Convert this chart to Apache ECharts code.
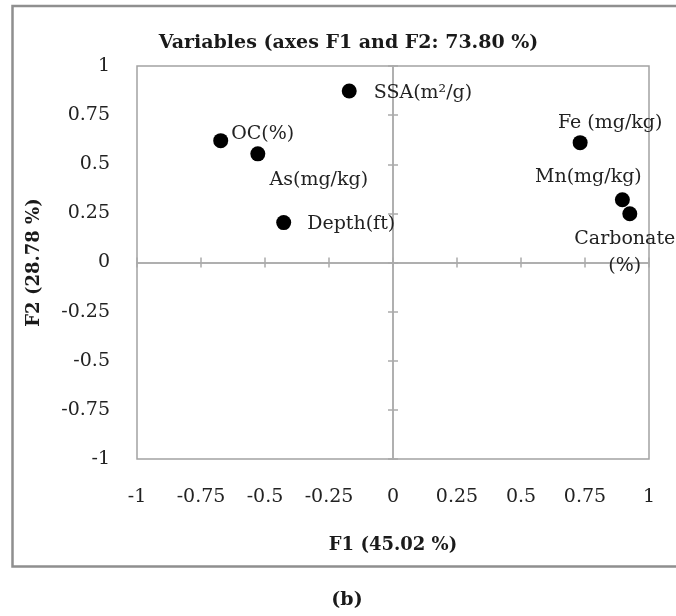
<!DOCTYPE html>
<html>
<head>
<meta charset="utf-8">
<script src="https://cdn.jsdelivr.net/npm/echarts@6/dist/echarts.min.js"></script>
<style>
    html, body { margin: 0; padding: 0; background: #fff; }
    #chart { width: 676px; height: 616px; }
</style>
</head>
<body>
<div id="chart"></div>
<script>
// 变量名称和坐标 (F1, F2)
var varNames = ['SSA(m²/g)', 'OC(%)', 'As(mg/kg)', 'Depth(ft)', 'Fe (mg/kg)', 'Mn(mg/kg)', 'Carbonate\n(%)'];
var f1Values = [-0.171, -0.673, -0.528, -0.427, 0.731, 0.896, 0.925];
var f2Values = [0.873, 0.620, 0.553, 0.203, 0.610, 0.319, 0.248];
var tickStep = 0.25;

// 标签位置 (只是样式)
var labelPlace = {
    'SSA(m²/g)': { position: 'right', offset: [12, 2] },
    'OC(%)': { position: 'right', offset: [-2, -7] },
    'As(mg/kg)': { position: 'bottom', offset: [61, 0] },
    'Depth(ft)': { position: 'right', offset: [11, 1] },
    'Fe (mg/kg)': { position: 'top', offset: [30, 6] },
    'Mn(mg/kg)': { position: 'top', offset: [-34, 3] },
    'Carbonate\n(%)': { position: 'bottom', offset: [-5, -1] }
};

var serif = 'DejaVu Serif';
var grey = '#ababab';

var chart = echarts.init(document.getElementById('chart'));

function tickAxis(inside) {
    return {
        type: 'value', min: -1, max: 1, interval: tickStep, position: 'bottom',
        axisLine: { show: true, onZero: true, lineStyle: { color: grey, width: 1.5 } },
        axisTick: { show: true, inside: inside, length: 5, lineStyle: { color: grey, width: 1.5 } },
        axisLabel: { show: false },
        splitLine: { show: false }
    };
}
function tickAxisY(inside) {
    var a = tickAxis(inside);
    a.position = 'left';
    return a;
}

var points = varNames.map(function (name, i) {
    var p = labelPlace[name];
    return {
        name: name,
        value: [f1Values[i], f2Values[i]],
        label: { show: true, position: p.position, offset: p.offset }
    };
});

var option = {
    animation: false,
    grid: {
        show: true, left: 137, right: 27, top: 66, bottom: 157,
        borderColor: '#a3a3a3', borderWidth: 1.5, backgroundColor: 'transparent'
    },
    xAxis: [
        {
            type: 'value', min: -1, max: 1, interval: tickStep, position: 'bottom',
            axisLine: { show: false, onZero: false },
            axisTick: { show: false },
            splitLine: { show: false },
            axisLabel: { margin: 29, color: '#222', fontFamily: serif, fontSize: 19 },
            name: 'F1 (45.02 %)', nameLocation: 'middle', nameGap: 77,
            nameTextStyle: { color: '#1a1a1a', fontFamily: serif, fontWeight: 'bold', fontSize: 18 }
        },
        tickAxis(true),
        tickAxis(false)
    ],
    yAxis: [
        {
            type: 'value', min: -1, max: 1, interval: tickStep, position: 'left',
            axisLine: { show: false, onZero: false },
            axisTick: { show: false },
            splitLine: { show: false },
            axisLabel: { margin: 27, color: '#222', fontFamily: serif, fontSize: 19 },
            name: 'F2 (28.78 %)', nameLocation: 'middle', nameGap: 94,
            nameTextStyle: { color: '#1a1a1a', fontFamily: serif, fontWeight: 'bold', fontSize: 18 }
        },
        tickAxisY(true),
        tickAxisY(false)
    ],
    series: [{
        type: 'scatter',
        symbol: 'circle',
        symbolSize: 15,
        itemStyle: { color: '#000', opacity: 1 },
        label: { color: '#222', fontFamily: serif, fontSize: 19, lineHeight: 27, formatter: '{b}' },
        data: points
    }],
    graphic: [
        {
            type: 'rect', silent: true,
            shape: { x: 12.5, y: 6, width: 700, height: 560.5 },
            style: { fill: 'none', stroke: '#8f8f8f', lineWidth: 2.5 }
        },
        {
            type: 'text', x: 348.5, y: 43,
            style: {
                text: 'Variables (axes F1 and F2: 73.80 %)', fill: '#1a1a1a',
                font: 'bold 19px "DejaVu Serif"', textAlign: 'center', textVerticalAlign: 'middle'
            }
        },
        {
            type: 'text', x: 347, y: 600,
            style: {
                text: '(b)', fill: '#1a1a1a',
                font: 'bold 19px "DejaVu Serif"', textAlign: 'center', textVerticalAlign: 'middle'
            }
        }
    ]
};

chart.setOption(option);
</script>
</body>
</html>
